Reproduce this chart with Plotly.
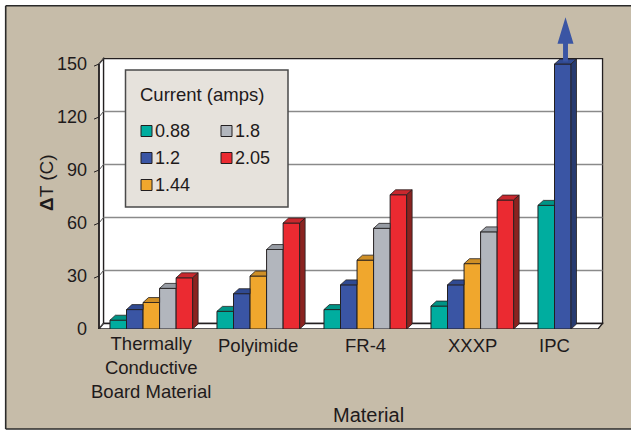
import plotly.graph_objects as go

# ---- data -------------------------------------------------------------
materials = ["Thermally\nConductive\nBoard Material", "Polyimide", "FR-4", "XXXP", "IPC"]
currents = ["0.88", "1.2", "1.44", "1.8", "2.05"]
dt_088 = [5, 10, 11, 13, 70]
dt_120 = [11, 20, 25, 25, 150]
dt_144 = [15, 30, 39, 37, None]
dt_180 = [23, 45, 57, 55, None]
dt_205 = [29, 60, 76, 73, None]
y_ticks = [0, 30, 60, 90, 120, 150]

series = [dt_088, dt_120, dt_144, dt_180, dt_205]

# ---- styling ----------------------------------------------------------
front_colors = ["#00ad9f", "#3a55a4", "#f0a72d", "#b2b6bd", "#eb2a31"]
top_colors = ["#009486", "#304a92", "#cf8f26", "#979ca4", "#c8282e"]
side_colors = ["#00766b", "#263a70", "#a46d1a", "#7a7f86", "#8a2320"]
EDGE = "#231f20"
BEIGE = "#c6bca9"
FONT = "Liberation Sans, Arial, sans-serif"
TXT = "#1e1a1b"

W, H = 631, 430
L, R, T, B = 92, 27, 8, 101
PW, PH = W - L - R, H - T - B
PX_PER_X = 107.0
X0 = -0.5544
X1 = X0 + PW / PX_PER_X
Y_TOP = 181.7

# 3-D depth of the chart box and of the bars (data units)
WALL_L, WALL_R = -0.489, 4.175
WDX, WDY = 0.042, 3.1
BDX, BDY = 0.051, 2.8

GROUP_W = 0.773
BAR_W = GROUP_W / len(series)
LABEL_LINE = 21.5  # spacing of category label lines, px


def paper_x(px):
    return (px - L) / PW


def paper_y(py):
    return (H - B - py) / PH


fig = go.Figure()

# ---- front faces of the bars -------------------------------------------
offsets = [-GROUP_W / 2 + k * BAR_W for k in range(len(series))]
for k, vals in enumerate(series):
    fig.add_trace(go.Bar(
        x=list(range(len(materials))), y=vals, width=BAR_W, offset=offsets[k],
        marker=dict(color=front_colors[k], line=dict(color=EDGE, width=1)),
        name=currents[k], showlegend=False, hoverinfo="skip",
    ))

# ---- top and side faces -----------------------------------------------
for k, vals in enumerate(series):
    tx, ty, sx, sy = [], [], [], []
    for i, v in enumerate(vals):
        if v is None:
            continue
        xl = i + offsets[k]
        xr = xl + BAR_W
        nv = series[k + 1][i] if k + 1 < len(series) else None
        hidden = nv is not None and nv >= v + BDY
        if hidden:
            tx += [xl, xr, xr, xl + BDX, xl, None]
            ty += [v, v, v + BDY, v + BDY, v, None]
        else:
            tx += [xl, xr, xr + BDX, xl + BDX, xl, None]
            ty += [v, v, v + BDY, v + BDY, v, None]
            sx += [xr, xr + BDX, xr + BDX, xr, xr, None]
            sy += [0, BDY, v + BDY, v, 0, None]
    fig.add_trace(go.Scatter(x=tx, y=ty, mode="lines", fill="toself",
                             fillcolor=top_colors[k], line=dict(color=EDGE, width=0.8),
                             showlegend=False, hoverinfo="skip"))
    if sx:
        fig.add_trace(go.Scatter(x=sx, y=sy, mode="lines", fill="toself",
                                 fillcolor=side_colors[k], line=dict(color=EDGE, width=0.8),
                                 showlegend=False, hoverinfo="skip"))

# ---- off-scale arrow above the tallest bar ------------------------------
vmax = max(v for s in series for v in s if v is not None)
for k, vals in enumerate(series):
    for i, v in enumerate(vals):
        if v == vmax and v >= y_ticks[-1]:
            cx = i + offsets[k] + BAR_W / 2 + BDX / 2
            base = v + BDY / 2
            shaft, head, hw_s, hw_h = 10.0, 15.0, 0.023, 0.075
            ax = [cx - hw_s, cx - hw_s, cx - hw_h, cx, cx + hw_h, cx + hw_s, cx + hw_s, cx - hw_s]
            ay = [base, base + shaft, base + shaft, base + shaft + head,
                  base + shaft, base + shaft, base, base]
            fig.add_trace(go.Scatter(x=ax, y=ay, mode="lines", fill="toself",
                                     fillcolor=front_colors[k], line=dict(color=front_colors[k], width=0),
                                     showlegend=False, hoverinfo="skip"))

# ---- background, walls, floor, grid ------------------------------------
shapes = [
    dict(type="rect", xref="paper", yref="paper", layer="below",
         x0=paper_x(6), x1=paper_x(W + 2), y0=paper_y(429), y1=paper_y(6),
         fillcolor=BEIGE, line=dict(width=0)),
    dict(type="rect", xref="x", yref="y", layer="below",
         x0=WALL_L + WDX, x1=WALL_R + WDX, y0=WDY, y1=y_ticks[-1] + WDY,
         fillcolor="white", line=dict(color=EDGE, width=1.3)),
    dict(type="path", xref="x", yref="y", layer="below",
         path=f"M{WALL_L},0 L{WALL_L},{y_ticks[-1]} L{WALL_L + WDX},{y_ticks[-1] + WDY} L{WALL_L + WDX},{WDY} Z",
         fillcolor="white", line=dict(color=EDGE, width=1.3)),
    dict(type="path", xref="x", yref="y", layer="below",
         path=f"M{WALL_L},0 L{WALL_R},0 L{WALL_R + WDX},{WDY} L{WALL_L + WDX},{WDY} Z",
         fillcolor="white", line=dict(color=EDGE, width=1.3)),
]
for t in y_ticks[1:-1]:
    shapes.append(dict(type="line", xref="x", yref="y", layer="below",
                       x0=WALL_L + WDX, x1=WALL_R + WDX, y0=t + WDY, y1=t + WDY,
                       line=dict(color="#8a8a8a", width=1.6)))
for t in y_ticks:
    shapes.append(dict(type="line", xref="x", yref="y", layer="below",
                       x0=WALL_L, x1=WALL_L + WDX, y0=t, y1=t + WDY,
                       line=dict(color="#555555", width=1)))
    shapes.append(dict(type="line", xref="x", yref="y", layer="below",
                       x0=WALL_L - 5 / PX_PER_X, x1=WALL_L, y0=t - 1.2, y1=t,
                       line=dict(color=EDGE, width=1)))
shapes.append(dict(type="line", xref="x", yref="y", layer="below",
                   x0=WALL_L, x1=WALL_L, y0=0, y1=y_ticks[-1],
                   line=dict(color=EDGE, width=1.5)))

# ---- legend box ---------------------------------------------------------
shapes.append(dict(type="rect", xref="paper", yref="paper",
                   x0=paper_x(125.5), x1=paper_x(288), y0=paper_y(207), y1=paper_y(70),
                   fillcolor="#e6e2dc", line=dict(color="#4a4a4a", width=1.5)))
annotations = [dict(xref="paper", yref="paper", x=paper_x(138), y=paper_y(94),
                    xanchor="left", yanchor="middle", showarrow=False,
                    text="Current (amps)", font=dict(family=FONT, size=18.5, color=TXT))]
legend_slots = [(141, 131), (141, 158), (141, 185), (221, 131), (221, 158)]
for k, (sx0, cy) in enumerate(legend_slots):
    shapes.append(dict(type="rect", xref="paper", yref="paper",
                       x0=paper_x(sx0), x1=paper_x(sx0 + 11), y0=paper_y(cy + 5.5), y1=paper_y(cy - 5.5),
                       fillcolor=front_colors[k], line=dict(color=EDGE, width=1)))
    annotations.append(dict(xref="paper", yref="paper", x=paper_x(sx0 + 12), y=paper_y(cy),
                            xanchor="left", yanchor="middle", showarrow=False,
                            text=currents[k], font=dict(family=FONT, size=18, color=TXT)))

# ---- outer frame --------------------------------------------------------
for (x0, y0, x1, y1) in [(5.7, 5.7, 5.7, 429), (5.7, 5.7, W + 2, 5.7), (5.7, 429, W + 2, 429)]:
    shapes.append(dict(type="line", xref="paper", yref="paper",
                       x0=paper_x(x0), x1=paper_x(x1), y0=paper_y(y0), y1=paper_y(y1),
                       line=dict(color="#2a2a2a", width=1.6)))

# ---- category labels and axis titles ------------------------------------
for i, name in enumerate(materials):
    centers = [i + offsets[k] + BAR_W / 2 for k in range(len(series)) if series[k][i] is not None]
    cx = sum(centers) / len(centers)
    lines = name.split("\n")
    annotations.append(dict(xref="x", yref="paper", x=cx,
                            y=paper_y(346 + LABEL_LINE * (len(lines) - 1) / 2),
                            xanchor="center", yanchor="middle", showarrow=False,
                            text="<br>".join(lines), font=dict(family=FONT, size=18.5, color=TXT)))
annotations.append(dict(xref="paper", yref="paper", x=paper_x(368), y=paper_y(415),
                        xanchor="center", yanchor="middle", showarrow=False,
                        text="Material", font=dict(family=FONT, size=20, color=TXT)))
annotations.append(dict(xref="paper", yref="paper", x=paper_x(47), y=paper_y(183),
                        xanchor="center", yanchor="middle", showarrow=False, textangle=-90,
                        text="<b>Δ</b>T (C)", font=dict(family=FONT, size=19, color=TXT)))

fig.update_layout(
    width=W, height=H, margin=dict(l=L, r=R, t=T, b=B, pad=0),
    paper_bgcolor="white", plot_bgcolor="rgba(0,0,0,0)",
    barmode="overlay", showlegend=False,
    shapes=shapes, annotations=annotations,
    xaxis=dict(range=[X0, X1], visible=False, fixedrange=True),
    yaxis=dict(range=[0, Y_TOP], tickvals=y_ticks, ticktext=[str(t) for t in y_ticks],
               showgrid=False, zeroline=False, showline=False, ticks="",
               ticklabelstandoff=4,
               tickfont=dict(family=FONT, size=18, color=TXT), fixedrange=True),
)

fig.write_html("out.html")
